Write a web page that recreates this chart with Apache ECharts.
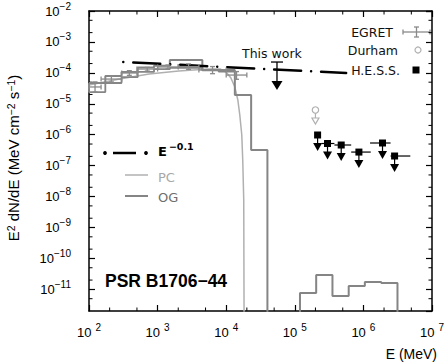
<!DOCTYPE html>
<html>
<head>
<meta charset="utf-8">
<script src="https://cdn.jsdelivr.net/npm/echarts@6/dist/echarts.min.js"></script>
<style>
  html, body { margin: 0; padding: 0; background: #fff; }
  #chart { width: 447px; height: 363px; }
</style>
</head>
<body>
<div id="chart"></div>
<script>
// axis range
var X_MIN = 100, X_MAX = 1e7;
var Y_MIN = 2e-12, Y_MAX = 1e-2;
var FLOOR = 1e-14;   // below the frame, used to drop lines to the bottom

// minor ticks (2 and 5 in each decade)
var xMinor = [200, 500, 2e3, 5e3, 2e4, 5e4, 2e5, 5e5, 2e6, 5e6];
var yMinor = [5e-12, 2e-11, 5e-11, 2e-10, 5e-10, 2e-9, 5e-9, 2e-8, 5e-8, 2e-7, 5e-7,
              2e-6, 5e-6, 2e-5, 5e-5, 2e-4, 5e-4, 2e-3, 5e-3];

// EGRET spectrum (MeV bins)
var egretElo = [100, 150, 300, 500, 1000, 2000, 4000, 10000];
var egretEhi = [150, 300, 500, 1000, 2000, 4000, 10000, 20000];
var egretF   = [3.5e-5, 6.3e-5, 9.9e-5, 1.33e-4, 1.55e-4, 1.6e-4, 1.24e-4, 8.5e-5];
var egretLo  = [2.4e-5, 5.1e-5, 8.3e-5, 1.15e-4, 1.35e-4, 1.3e-4, 9.4e-5, 6.2e-5];
var egretHi  = [5.1e-5, 7.9e-5, 1.18e-4, 1.5e-4, 1.8e-4, 1.95e-4, 1.6e-4, 1.1e-4];

// outer gap model (histogram)
var ogEdges = [100, 173, 298, 514, 887, 1508, 2602, 4490, 7750, 13370, 23100, 39900,
               68800, 1.19e5, 2.05e5, 3.54e5, 6.11e5, 1.05e6, 1.82e6, 3.14e6];
var ogHigh  = [4.7e-5, 7.9e-5, 1.07e-4, 1.5e-4, 1.7e-4, 2.6e-4, 2.6e-4, 1.24e-4, 1.24e-4,
               1.92e-5, 3.2e-7, FLOOR, FLOOR, 7.6e-12, 2.9e-11, 6.1e-12, 1.29e-11, 1.73e-11, 1.6e-11];
var ogLow   = [2.4e-5, 4.7e-5, 7.3e-5, 1.07e-4, 1.33e-4, 1.45e-4, 1.45e-4, 1.2e-4, 1.1e-4];

// polar cap model
var pcE = [100, 279, 752, 2030, 5480, 8150, 9930, 11720, 13370, 14780, 15790, 16870, 17430, 18020, 18330];
var pcF = [4.05e-5, 6.3e-5, 9.2e-5, 1.15e-4, 1.33e-4, 1.33e-4, 1.07e-4, 6.8e-5, 3.5e-5,
           1.33e-5, 4.3e-6, 9.8e-7, 1.5e-7, 7.8e-9, FLOOR];

// E^-0.1 power law
var plE = [316, 5.6e5];
var plF = [2.24e-4, 9.9e-5];

// this work upper limit
var twE = [5.5e4];
var twF = [2.24e-4];

// Durham upper limit
var duE = [2.0e5];
var duF = [6.3e-6];

// H.E.S.S. upper limits
var hessE   = [2.15e5, 3.0e5, 4.75e5, 8.6e5, 1.9e6, 2.85e6];
var hessElo = [2.15e5, 2.46e5, 3.78e5, 6.64e5, 1.25e6, 2.49e6];
var hessEhi = [2.15e5, 3.78e5, 6.64e5, 1.28e6, 2.49e6, 4.83e6];
var hessF   = [9.8e-7, 5.2e-7, 4.65e-7, 2.75e-7, 5.4e-7, 2.05e-7];

var GREY_EG = '#8a8a8a', GREY_PC = '#b0b0b0', GREY_OG = '#858585';

function steps(edges, vals) {
  var pts = [];
  for (var i = 0; i < vals.length; i++) {
    pts.push([edges[i], vals[i]], [edges[i + 1], vals[i]]);
  }
  return pts;
}
function zip(a, b) {
  return a.map(function (v, i) { return [v, b[i]]; });
}

var ogHighData = steps(ogEdges, ogHigh);
ogHighData.push([ogEdges[ogEdges.length - 1], FLOOR]);
var ogLowData = [[ogEdges[0], ogHigh[0]]].concat(steps(ogEdges, ogLow));

var egretData = egretF.map(function (f, i) {
  return [Math.sqrt(egretElo[i] * egretEhi[i]), f, egretElo[i], egretEhi[i], egretLo[i], egretHi[i]];
});
var hessData = hessF.map(function (f, i) {
  return [hessE[i], f, hessElo[i], hessEhi[i]];
});

function ln(x1, y1, x2, y2, st) {
  return { type: 'line', shape: { x1: x1, y1: y1, x2: x2, y2: y2 }, style: st };
}

var supRich = {
  b: { fontSize: 13, fontFamily: 'Liberation Sans', color: '#000', lineHeight: 20 },
  s: { fontSize: 10, fontFamily: 'Liberation Sans', color: '#000', verticalAlign: 'top' }
};

var myChart = echarts.init(document.getElementById('chart'), null, { renderer: 'svg' });

var option = {
  animation: false,
  backgroundColor: '#fff',
  grid: { left: 89, right: 10, top: 11, bottom: 52 },
  xAxis: [
    {
      type: 'log', min: X_MIN, max: X_MAX, logBase: 10, splitNumber: 5,
      axisLine: { lineStyle: { color: '#000', width: 1.5 } },
      axisTick: { inside: true, length: 6, lineStyle: { color: '#000', width: 1.2 } },
      splitLine: { show: false },
      axisLabel: {
        margin: 11,
        formatter: function (v) { return '{b|10}{s|' + Math.round(Math.log10(v)) + '}'; },
        rich: {
          b: supRich.b,
          s: { fontSize: 10, fontFamily: 'Liberation Sans', color: '#000', verticalAlign: 'top', padding: [0, 0, 0, 4] }
        }
      }
    },
    {
      type: 'log', min: X_MIN, max: X_MAX, logBase: 10, position: 'top', splitNumber: 5,
      axisLine: { lineStyle: { color: '#000', width: 1.5 } },
      axisTick: { inside: true, length: 6, lineStyle: { color: '#000', width: 1.2 } },
      axisLabel: { show: false }, splitLine: { show: false }
    }
  ],
  yAxis: [
    {
      type: 'log', min: Y_MIN, max: Y_MAX, logBase: 10, splitNumber: 10,
      axisLine: { lineStyle: { color: '#000', width: 1.5 } },
      axisTick: { inside: true, length: 6, lineStyle: { color: '#000', width: 1.2 } },
      splitLine: { show: false },
      axisLabel: {
        margin: 18, showMinLabel: false,
        formatter: function (v) { return '{b|10}{s|\u2212' + (-Math.round(Math.log10(v))) + '}'; },
        rich: supRich
      }
    },
    {
      type: 'log', min: Y_MIN, max: Y_MAX, logBase: 10, position: 'right', splitNumber: 10,
      axisLine: { lineStyle: { color: '#000', width: 1.5 } },
      axisTick: { inside: true, length: 6, lineStyle: { color: '#000', width: 1.2 } },
      axisLabel: { show: false }, splitLine: { show: false }
    }
  ],
  series: [
    {
      name: 'minor x', type: 'custom', silent: true,
      data: xMinor.map(function (e) { return [e, Y_MIN]; }),
      renderItem: function (p, api) {
        var b = api.coord([api.value(0), Y_MIN]);
        var t = api.coord([api.value(0), Y_MAX]);
        var st = { stroke: '#000', lineWidth: 1 };
        return { type: 'group', children: [ln(b[0], b[1], b[0], b[1] - 3.5, st), ln(t[0], t[1], t[0], t[1] + 3.5, st)] };
      }
    },
    {
      name: 'minor y', type: 'custom', silent: true,
      data: yMinor.map(function (f) { return [X_MIN, f]; }),
      renderItem: function (p, api) {
        var l = api.coord([X_MIN, api.value(1)]);
        var r = api.coord([X_MAX, api.value(1)]);
        var st = { stroke: '#000', lineWidth: 1 };
        return { type: 'group', children: [ln(l[0], l[1], l[0] + 3.5, l[1], st), ln(r[0], r[1], r[0] - 3.5, r[1], st)] };
      }
    },
    {
      name: 'PC', type: 'line', symbol: 'none', data: zip(pcE, pcF),
      lineStyle: { color: GREY_PC, width: 1.5 }, z: 3
    },
    {
      name: 'OG', type: 'line', symbol: 'none', data: ogHighData,
      lineStyle: { color: GREY_OG, width: 2 }, z: 3
    },
    {
      name: 'OG low', type: 'line', symbol: 'none', data: ogLowData,
      lineStyle: { color: GREY_OG, width: 1.8 }, z: 3
    },
    {
      name: 'E-0.1', type: 'line', symbol: 'none', data: zip(plE, plF),
      lineStyle: { color: '#000', width: 2.5, type: [0.01, 10, 27, 10], cap: 'round' }, z: 4
    },
    {
      name: 'EGRET', type: 'custom', data: egretData, z: 5,
      renderItem: function (p, api) {
        var c = api.coord([api.value(0), api.value(1)]);
        var l = api.coord([api.value(2), api.value(1)]);
        var r = api.coord([api.value(3), api.value(1)]);
        var lo = api.coord([api.value(0), api.value(4)]);
        var hi = api.coord([api.value(0), api.value(5)]);
        var st = { stroke: GREY_EG, lineWidth: 1.3 };
        return { type: 'group', children: [
          ln(l[0], c[1], r[0], c[1], st),
          ln(l[0], c[1] - 2.5, l[0], c[1] + 2.5, st),
          ln(r[0], c[1] - 2.5, r[0], c[1] + 2.5, st),
          ln(c[0], lo[1], c[0], hi[1], st),
          ln(c[0] - 2.5, lo[1], c[0] + 2.5, lo[1], st),
          ln(c[0] - 2.5, hi[1], c[0] + 2.5, hi[1], st)
        ] };
      }
    },
    {
      name: 'This work', type: 'custom', data: zip(twE, twF), z: 5,
      renderItem: function (p, api) {
        var c = api.coord([api.value(0), api.value(1)]);
        var st = { stroke: '#000', lineWidth: 1.3 };
        return { type: 'group', children: [
          ln(c[0] - 6, c[1], c[0] + 6, c[1], st),
          ln(c[0], c[1], c[0], c[1] + 20, st),
          { type: 'polygon', shape: { points: [[c[0] - 5.5, c[1] + 19], [c[0] + 5.5, c[1] + 19], [c[0], c[1] + 28]] }, style: { fill: '#000' } }
        ] };
      }
    },
    {
      name: 'Durham', type: 'custom', data: zip(duE, duF), z: 5,
      renderItem: function (p, api) {
        var c = api.coord([api.value(0), api.value(1)]);
        var st = { stroke: GREY_PC, lineWidth: 1.2, fill: null };
        return { type: 'group', children: [
          { type: 'circle', shape: { cx: c[0], cy: c[1], r: 3.2 }, style: { stroke: GREY_PC, lineWidth: 1.2, fill: '#fff' } },
          ln(c[0], c[1] + 3.2, c[0], c[1] + 8, st),
          { type: 'polygon', shape: { points: [[c[0] - 3.5, c[1] + 8], [c[0] + 3.5, c[1] + 8], [c[0], c[1] + 14]] }, style: { stroke: GREY_PC, lineWidth: 1.2, fill: '#fff' } }
        ] };
      }
    },
    {
      name: 'H.E.S.S.', type: 'custom', data: hessData, z: 5,
      renderItem: function (p, api) {
        var c = api.coord([api.value(0), api.value(1)]);
        var l = api.coord([api.value(2), api.value(1)]);
        var r = api.coord([api.value(3), api.value(1)]);
        var st = { stroke: '#000', lineWidth: 1.2 };
        var kids = [];
        if (r[0] - l[0] > 1) kids.push(ln(l[0], c[1], r[0], c[1], st));
        kids.push(ln(c[0], c[1], c[0], c[1] + 10, st));
        kids.push({ type: 'rect', shape: { x: c[0] - 3.5, y: c[1] - 3.5, width: 7, height: 7 }, style: { fill: '#000' } });
        kids.push({ type: 'polygon', shape: { points: [[c[0] - 4.5, c[1] + 8], [c[0] + 4.5, c[1] + 8], [c[0], c[1] + 16]] }, style: { fill: '#000' } });
        return { type: 'group', children: kids };
      }
    }
  ],
  graphic: { elements: [
    // upper right legend
    { type: 'text', x: 393, y: 32, style: { text: 'EGRET', textAlign: 'right', textVerticalAlign: 'middle', font: '12.5px "DejaVu Sans"', fill: '#111' } },
    { type: 'line', shape: { x1: 403, y1: 32, x2: 430, y2: 32 }, style: { stroke: GREY_EG, lineWidth: 1.3 } },
    { type: 'line', shape: { x1: 403, y1: 29.5, x2: 403, y2: 34.5 }, style: { stroke: GREY_EG, lineWidth: 1.3 } },
    { type: 'line', shape: { x1: 430, y1: 29.5, x2: 430, y2: 34.5 }, style: { stroke: GREY_EG, lineWidth: 1.3 } },
    { type: 'line', shape: { x1: 416.5, y1: 27, x2: 416.5, y2: 37 }, style: { stroke: GREY_EG, lineWidth: 1.3 } },
    { type: 'line', shape: { x1: 414, y1: 27, x2: 419, y2: 27 }, style: { stroke: GREY_EG, lineWidth: 1.3 } },
    { type: 'line', shape: { x1: 414, y1: 37, x2: 419, y2: 37 }, style: { stroke: GREY_EG, lineWidth: 1.3 } },
    { type: 'text', x: 398, y: 50, style: { text: 'Durham', textAlign: 'right', textVerticalAlign: 'middle', font: '12.5px "DejaVu Sans"', fill: '#111' } },
    { type: 'circle', shape: { cx: 418, cy: 50, r: 3 }, style: { stroke: GREY_PC, lineWidth: 1.2, fill: '#fff' } },
    { type: 'text', x: 400, y: 70, style: { text: 'H.E.S.S.', textAlign: 'right', textVerticalAlign: 'middle', font: '12.5px "DejaVu Sans"', fill: '#111' } },
    { type: 'rect', shape: { x: 412.5, y: 66.5, width: 7, height: 7 }, style: { fill: '#000' } },
    // this work label
    { type: 'text', x: 242, y: 53, style: { text: 'This work', textAlign: 'left', textVerticalAlign: 'middle', font: '12.5px "DejaVu Sans"', fill: '#111' } },
    // left legend
    { type: 'circle', shape: { cx: 105, cy: 153, r: 1.9 }, style: { fill: '#000' } },
    { type: 'line', shape: { x1: 113, y1: 153, x2: 136, y2: 153 }, style: { stroke: '#000', lineWidth: 2.5 } },
    { type: 'circle', shape: { cx: 146, cy: 153, r: 1.9 }, style: { fill: '#000' } },
    { type: 'text', x: 158, y: 151, style: { text: '{e|E}{s|\u22120.1}', textAlign: 'left', textVerticalAlign: 'middle',
      rich: { e: { fontSize: 13, fontWeight: 'bold', fontFamily: 'DejaVu Sans', fill: '#000', lineHeight: 20 },
              s: { fontSize: 9.5, fontWeight: 'bold', fontFamily: 'DejaVu Sans', fill: '#000', verticalAlign: 'top', padding: [0, 0, 0, 2] } } } },
    { type: 'line', shape: { x1: 125, y1: 175, x2: 148, y2: 175 }, style: { stroke: GREY_PC, lineWidth: 1.5 } },
    { type: 'text', x: 158, y: 177, style: { text: 'PC', textAlign: 'left', textVerticalAlign: 'middle', font: '13px "DejaVu Sans"', fill: '#a8a8a8' } },
    { type: 'line', shape: { x1: 125, y1: 196, x2: 148, y2: 196 }, style: { stroke: GREY_OG, lineWidth: 2 } },
    { type: 'text', x: 158, y: 197, style: { text: 'OG', textAlign: 'left', textVerticalAlign: 'middle', font: '13px "DejaVu Sans"', fill: '#6e6e6e' } },
    // source name
    { type: 'text', x: 105, y: 281, style: { text: 'PSR B1706\u221244', textAlign: 'left', textVerticalAlign: 'middle', font: 'bold 17.5px "Liberation Sans"', fill: '#000' } },
    // axis titles
    { type: 'text', x: 13, y: 158, rotation: Math.PI / 2, style: {
      text: 'E{s|2} dN/dE (MeV cm{s|\u22122} s{s|\u22121})', textAlign: 'center', textVerticalAlign: 'middle',
      font: '15px "Liberation Sans"', fill: '#000',
      rich: { s: { fontSize: 10.5, fontFamily: 'Liberation Sans', fill: '#000', verticalAlign: 'top' } } } },
    { type: 'text', x: 437, y: 354, style: { text: 'E (MeV)', textAlign: 'right', textVerticalAlign: 'middle', font: '14px "Liberation Sans"', fill: '#000' } }
  ] }
};

myChart.setOption(option);
</script>
</body>
</html>
